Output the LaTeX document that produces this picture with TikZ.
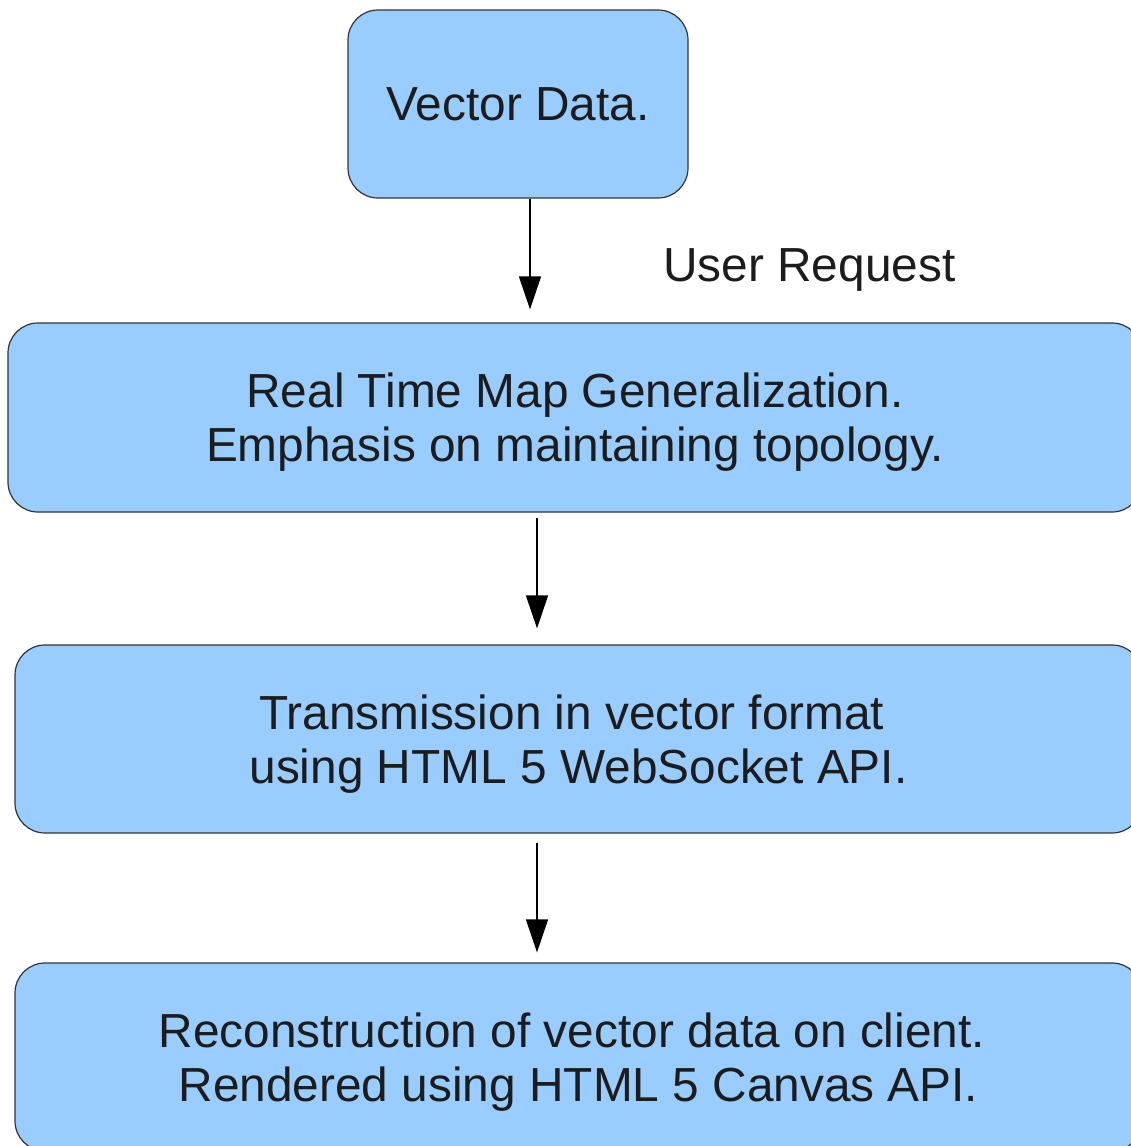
\documentclass[tikz,border=0pt]{standalone}
\usepackage{fontspec}
\setmainfont{Liberation Sans}
\usetikzlibrary{arrows.meta}
\definecolor{boxfill}{HTML}{99CCFF}
\definecolor{boxline}{HTML}{333333}
\definecolor{txtcol}{HTML}{1C1C1C}
\tikzset{
  flowbox/.style={draw=boxline, line width=1.2pt, fill=boxfill, rounded corners=30pt,
    align=center, text=txtcol, font=\fontsize{47.8}{54}\selectfont, text depth=0pt, inner sep=0pt},
  arr/.style={line width=1.2pt, draw=black, -{Triangle[length=33pt,width=22pt]}},
  lbl/.style={text=txtcol, font=\fontsize{47.8}{54}\selectfont, inner sep=0pt}
}
\begin{document}
\begin{tikzpicture}[x=1pt,y=-1pt]
\useasboundingbox[fill=white] (0,0) rectangle (1131,1146);
\node[flowbox, minimum width=340pt, minimum height=188pt] (v) at (518,104) {Vector Data.};
\node[flowbox, minimum width=1134pt, minimum height=189pt] (rt) at (575,417.5)
  {Real Time Map Generalization.\\Emphasis on maintaining topology.};
\node[flowbox, minimum width=1127pt, minimum height=188pt] (tr) at (578.5,739)
  {Transmission in vector format\hspace*{0.28em}\\using HTML 5 WebSocket API.};
\node[flowbox, minimum width=1127pt, minimum height=188pt] (rc) at (578.5,1057)
  {Reconstruction of vector data on client.\hspace*{0.28em}\\Rendered using HTML 5 Canvas API.};
\node[lbl, anchor=base west] (ur) at (663,281.5) {User Request};
\coordinate (ax1) at (530,0);
\coordinate (ax2) at (537,0);
\draw[arr, shorten >=13pt] (v.south -| ax1) -- (rt.north -| ax1);
\draw[arr, shorten <=5pt, shorten >=16pt] (rt.south -| ax2) -- (tr.north -| ax2);
\draw[arr, shorten <=9pt, shorten >=10pt] (tr.south -| ax2) -- (rc.north -| ax2);
\end{tikzpicture}
\end{document}
